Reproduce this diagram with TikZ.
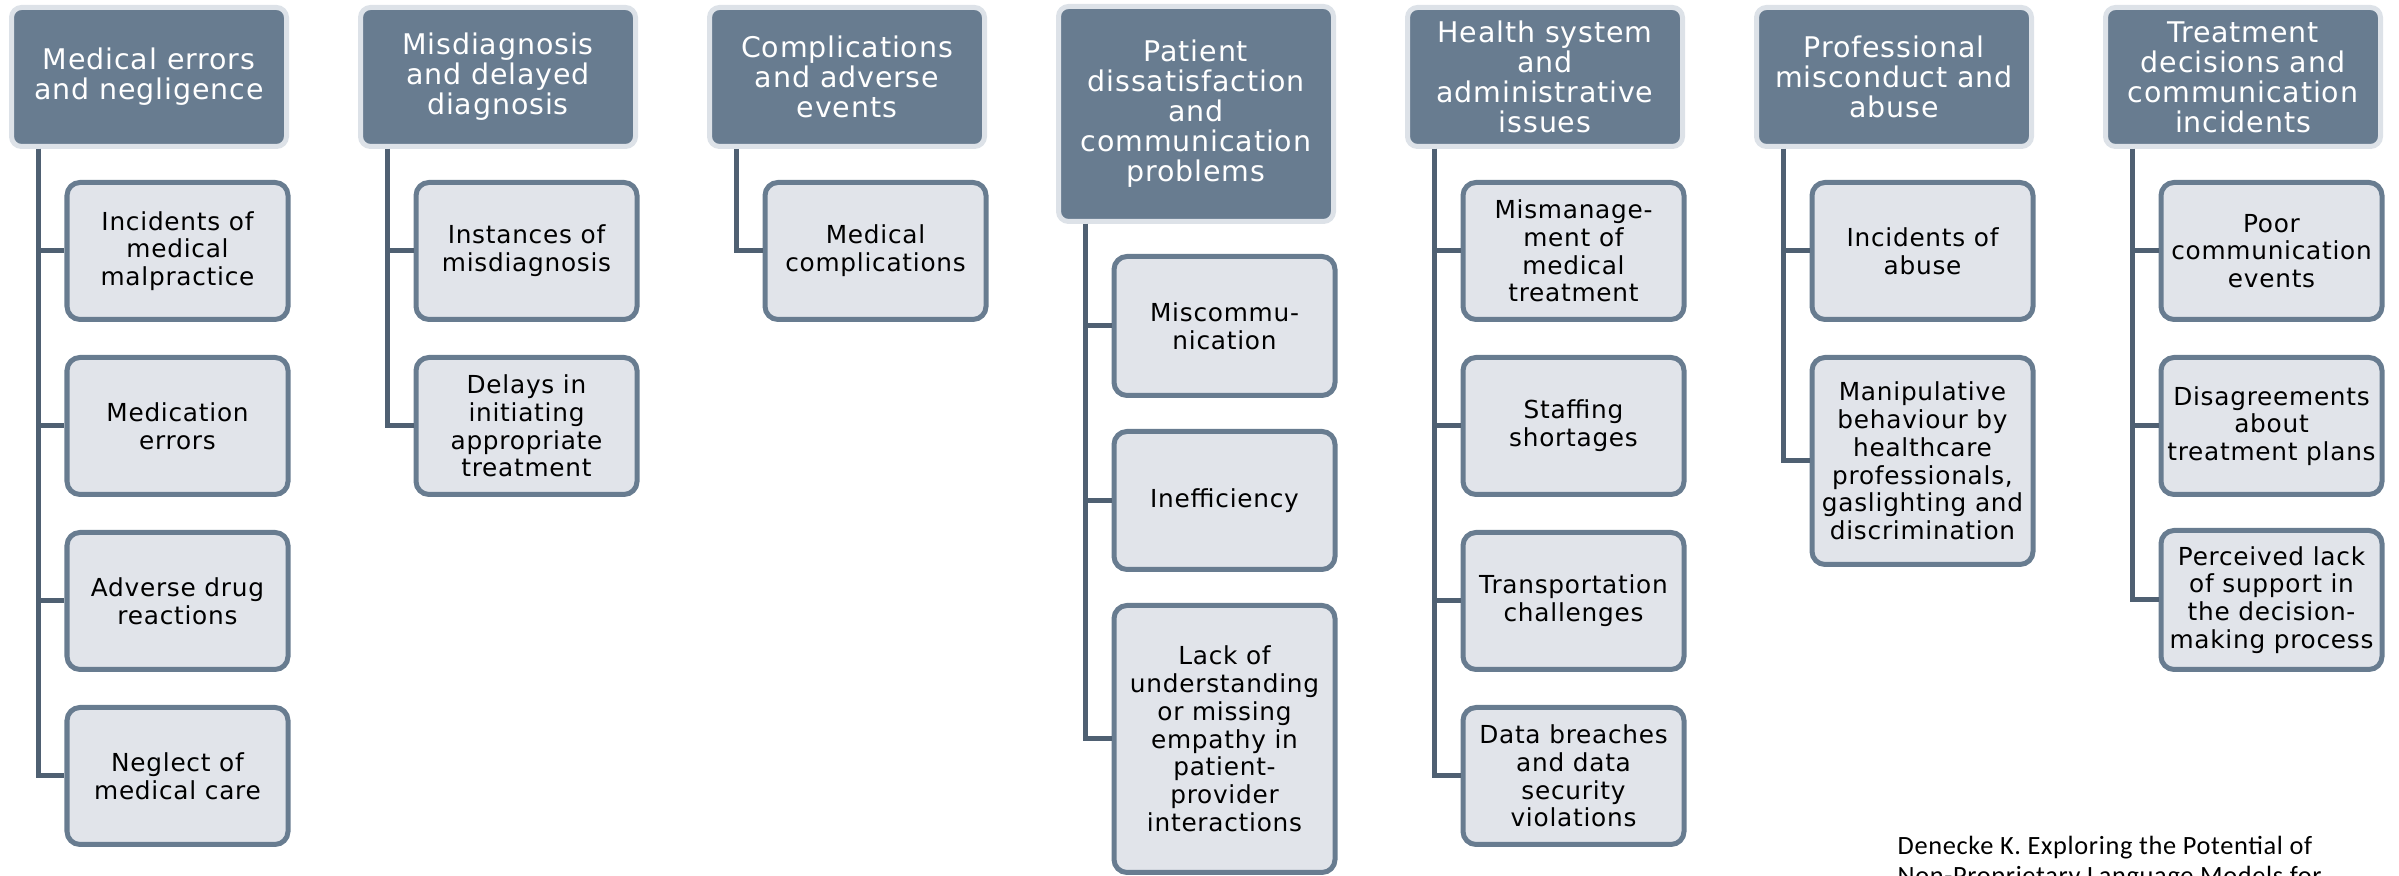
\documentclass[tikz,border=0pt]{standalone}
\usepackage{fontspec}
\setmainfont{DejaVu Sans}[LetterSpace=3]
\newfontfamily\notefont{Carlito}[LetterSpace=2.5]
\definecolor{slate}{HTML}{687C90}
\definecolor{rim}{HTML}{DDE2E8}
\definecolor{pale}{HTML}{E1E4EA}
\definecolor{stemcol}{HTML}{4F6072}
\begin{document}
\begin{tikzpicture}[x=1cm, y=1cm]
        \tikzset{%
         every group/.style={
            rounded corners=0.1cm,
            fill=slate,
            draw=rim,
            line width=0.05cm,
            text=white,
            minimum width=2.75cm,
            minimum height=1.39cm,
            align=center,
            inner sep=1pt,
            font=\fontsize{8.1}{8.55}\selectfont},
        group tall/.style={
            minimum height=2.15cm,
            yshift=-0.37cm},
        every issue/.style={
            rounded corners=0.13cm,
            fill=pale,
            draw=slate,
            line width=0.05cm,
            minimum width=2.21cm,
            align=center,
            inner sep=1pt,
            font=\fontsize{7.05}{7.9}\selectfont},
        stem/.style={
            draw=stemcol,
            line width=0.05cm},
        }
        \useasboundingbox (0,0) rectangle (23.99,-8.76);

        \foreach \k/\t [count=\c from 0] in {flat/{Medical errors\\and negligence},
            flat/{Misdiagnosis\\and delayed\\diagnosis},
            flat/{Complications\\and adverse\\events},
            tall/{Patient\\dissatisfaction\\and\\communication\\problems},
            flat/{Health system\\and\\administrative\\issues},
            flat/{Professional\\misconduct and\\abuse},
            flat/{Treatment\\decisions and\\communication\\incidents}}
        {
            \node [every group, group \k/.try] (group-\c) at (1.49+3.49*\c,-0.77) {\t};
        }

        \foreach \y/\h/\t [count=\r] in {1.80/1.42/{Incidents of\\medical\\malpractice},
            3.55/1.42/{Medication\\errors},
            5.30/1.42/{Adverse drug\\reactions},
            7.05/1.42/{Neglect of\\medical care}}
            \node [every issue, anchor=north, minimum height={(\h-0.05)*1cm}] (issue-0-\r) at (1.775,-\y) {\t};

        \foreach \y/\h/\t [count=\r] in {1.80/1.42/{Instances of\\misdiagnosis},
            3.55/1.42/{Delays in\\initiating\\appropriate\\treatment}}
            \node [every issue, anchor=north, minimum height={(\h-0.05)*1cm}] (issue-1-\r) at (1.775+3.49,-\y) {\t};

        \foreach \y/\h/\t [count=\r] in {1.80/1.42/{Medical\\complications}}
            \node [every issue, anchor=north, minimum height={(\h-0.05)*1cm}] (issue-2-\r) at (1.775+2*3.49,-\y) {\t};

        \foreach \y/\h/\t [count=\r] in {2.54/1.44/{Miscommu-\\nication},
            4.29/1.43/{Inefficiency},
            6.03/2.72/{Lack of\\understanding\\or missing\\empathy in\\patient-\\provider\\interactions}}
            \node [every issue, anchor=north, minimum height={(\h-0.05)*1cm}] (issue-3-\r) at (1.775+3*3.49,-\y) {\t};

        \foreach \y/\h/\t [count=\r] in {1.80/1.42/{Mismanage-\\ment of\\medical\\treatment},
            3.55/1.42/{Staffing\\shortages},
            5.30/1.42/{Transportation\\challenges},
            7.05/1.42/{Data breaches\\and data\\security\\violations}}
            \node [every issue, anchor=north, minimum height={(\h-0.05)*1cm}] (issue-4-\r) at (1.775+4*3.49,-\y) {\t};

        \foreach \y/\h/\t [count=\r] in {1.80/1.42/{Incidents of\\abuse},
            3.55/2.12/{Manipulative\\behaviour by\\healthcare\\professionals,\\gaslighting and\\discrimination}}
            \node [every issue, anchor=north, minimum height={(\h-0.05)*1cm}] (issue-5-\r) at (1.775+5*3.49,-\y) {\t};

        \foreach \y/\h/\t [count=\r] in {1.80/1.42/{Poor\\communication\\events},
            3.55/1.42/{Disagreements\\about\\treatment plans},
            5.28/1.44/{Perceived lack\\of support in\\the decision-\\making process}}
            \node [every issue, anchor=north, minimum height={(\h-0.05)*1cm}] (issue-6-\r) at (1.775+6*3.49,-\y) {\t};

        \foreach \c/\n in {0/4,1/2,2/1,3/3,4/4,5/2,6/3}
        \foreach \r in {1,...,\n}
            \draw [stem] ([xshift=-1.11cm]group-\c.south) |- (issue-\c-\r.west);

        \node [anchor=north west, inner sep=0pt, align=left,
            font=\notefont\fontsize{7.5}{8.8}\selectfont] (source) at (18.97,-8.35)
            {Denecke K. Exploring the Potential of\\Non-Proprietary Language Models for};
    \end{tikzpicture}
\end{document}
